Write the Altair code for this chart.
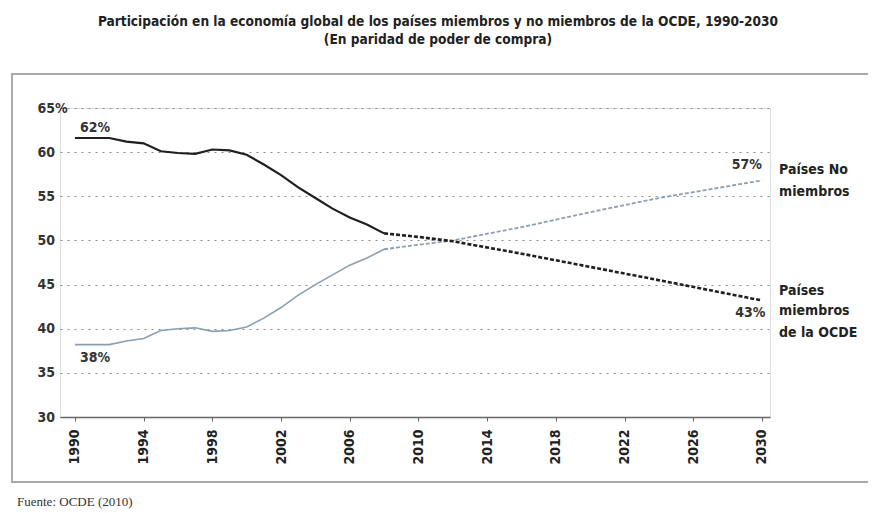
import altair as alt
import pandas as pd

years_hist = list(range(1990, 2009))
ocde_hist = [61.6, 61.6, 61.6, 61.2, 61.0, 60.1, 59.9, 59.8, 60.3, 60.2, 59.7,
             58.6, 57.4, 56.0, 54.8, 53.6, 52.6, 51.8, 50.8]
no_ocde_hist = [38.2, 38.2, 38.2, 38.6, 38.9, 39.8, 40.0, 40.1, 39.7, 39.8, 40.2,
                41.2, 42.4, 43.8, 45.0, 46.1, 47.2, 48.0, 49.0]

years_proj = [2008, 2010, 2012, 2016, 2020, 2024, 2030]
ocde_proj = [50.8, 50.4, 49.9, 48.5, 47.0, 45.5, 43.2]
no_ocde_proj = [49.0, 49.5, 50.0, 51.5, 53.2, 54.8, 56.8]

value_labels = ["62%", "38%", "57%", "43%"]
value_label_x = [1990.3, 1990.3, 2030.0, 2030.2]
value_label_y = [62.7, 36.7, 58.5, 41.8]
value_label_align = ["left", "left", "right", "right"]

series_lines = ["Países No", "miembros", "Países", "miembros", "de la OCDE"]
series_line_y = [58.0, 55.5, 44.3, 42.0, 39.5]
series_line_x = 2031.0

title_line = "Participación en la economía global de los países miembros y no miembros de la OCDE, 1990-2030"
subtitle_line = "(En paridad de poder de compra)"
source_text = "Fuente: OCDE (2010)"

FONT = "DejaVu Sans Condensed, Liberation Sans Narrow, sans-serif"
DARK = "#1f1f1f"
LIGHT = "#8a9fb0"

W, H = 710, 309
xs = alt.Scale(domain=[1989.13, 2030.47], nice=False, zero=False)
ys = alt.Scale(domain=[30, 65], nice=False, zero=False)

hist = pd.DataFrame({"year": years_hist, "ocde": ocde_hist, "no": no_ocde_hist})
proj = pd.DataFrame({"year": years_proj, "ocde": ocde_proj, "no": no_ocde_proj})

all_years = list(range(1990, 2031))

base_axes = alt.Chart(hist).mark_line(color=LIGHT, strokeWidth=1.6).encode(
    x=alt.X("year:Q", scale=xs, title=None,
            axis=alt.Axis(values=all_years, format="d",
                          labelExpr="datum.value % 2 == 0 ? datum.label : ''",
                          labelAngle=270, labelFont=FONT, labelFontSize=14,
                          labelFontWeight="bold", labelColor="#222",
                          labelPadding=8, tickSize=4, tickColor="#666",
                          domainColor="#666", domainWidth=1.5, grid=False)),
    y=alt.Y("no:Q", scale=ys, title=None,
            axis=alt.Axis(values=[30, 35, 40, 45, 50, 55, 60, 65],
                          labelExpr="datum.value == 65 ? '65%' : datum.label",
                          labelAlign="left", labelPadding=23, tickSize=0,
                          labelFont=FONT, labelFontSize=14, labelFontWeight="bold",
                          labelColor="#333", domain=False, grid=True,
                          gridColor="#8a8a8a", gridDash=[2, 5], gridWidth=1.2)),
)

ocde_line = alt.Chart(hist).mark_line(color=DARK, strokeWidth=2.2).encode(
    x=alt.X("year:Q", scale=xs), y=alt.Y("ocde:Q", scale=ys))

no_proj_line = alt.Chart(proj).mark_line(color=LIGHT, strokeWidth=1.8, strokeDash=[4, 2]).encode(
    x=alt.X("year:Q", scale=xs), y=alt.Y("no:Q", scale=ys))
ocde_proj_line = alt.Chart(proj).mark_line(color=DARK, strokeWidth=2.6, strokeDash=[4, 2]).encode(
    x=alt.X("year:Q", scale=xs), y=alt.Y("ocde:Q", scale=ys))

vl = pd.DataFrame({"t": value_labels, "x": value_label_x, "y": value_label_y, "a": value_label_align})
vl_left = alt.Chart(vl[vl.a == "left"]).mark_text(
    align="left", baseline="middle", font=FONT, fontSize=14, fontWeight="bold", color="#333"
).encode(x=alt.X("x:Q", scale=xs), y=alt.Y("y:Q", scale=ys), text="t:N")
vl_right = alt.Chart(vl[vl.a == "right"]).mark_text(
    align="right", baseline="middle", font=FONT, fontSize=14, fontWeight="bold", color="#333"
).encode(x=alt.X("x:Q", scale=xs), y=alt.Y("y:Q", scale=ys), text="t:N")

sl = pd.DataFrame({"t": series_lines, "y": series_line_y, "x": [series_line_x] * len(series_lines)})
series_text = alt.Chart(sl).mark_text(
    align="left", baseline="middle", font=FONT, fontSize=14, fontWeight="bold", color="#222"
).encode(x=alt.X("x:Q", scale=xs), y=alt.Y("y:Q", scale=ys), text="t:N")

one = pd.DataFrame({"k": [0]})
frame_style = dict(stroke="#a8a8a8", strokeWidth=2)
frame_top = alt.Chart(one).mark_rule(**frame_style).encode(
    x=alt.value(-48), x2=alt.value(808), y=alt.value(-34))
frame_bottom = alt.Chart(one).mark_rule(**frame_style).encode(
    x=alt.value(-48), x2=alt.value(808), y=alt.value(374))
frame_left = alt.Chart(one).mark_rule(**frame_style).encode(
    x=alt.value(-48), y=alt.value(-35), y2=alt.value(375))

source = alt.Chart(pd.DataFrame({"t": [source_text]})).mark_text(
    align="left", baseline="middle", font="Liberation Serif, Times New Roman, serif",
    fontSize=13, color="#333"
).encode(x=alt.value(-43), y=alt.value(394), text="t:N")

chart = alt.layer(
    frame_top, frame_bottom, frame_left, base_axes, ocde_line, no_proj_line, ocde_proj_line,
    vl_left, vl_right, series_text, source
).properties(
    width=W, height=H,
    title=alt.TitleParams(
        text=title_line, subtitle=subtitle_line, anchor="middle", dx=23, offset=25,
        font=FONT, fontSize=13.6, fontWeight="bold", color="#222",
        subtitleFont=FONT, subtitleFontSize=13.6, subtitleFontWeight="bold",
        subtitleColor="#222", subtitlePadding=5),
    autosize=alt.AutoSizeParams(type="none"),
    padding={"left": 52, "top": 100, "right": 98, "bottom": 95},
).configure_view(stroke=None).configure(background="white")

chart.save("out.html", embed_options={"renderer": "svg", "actions": False})
